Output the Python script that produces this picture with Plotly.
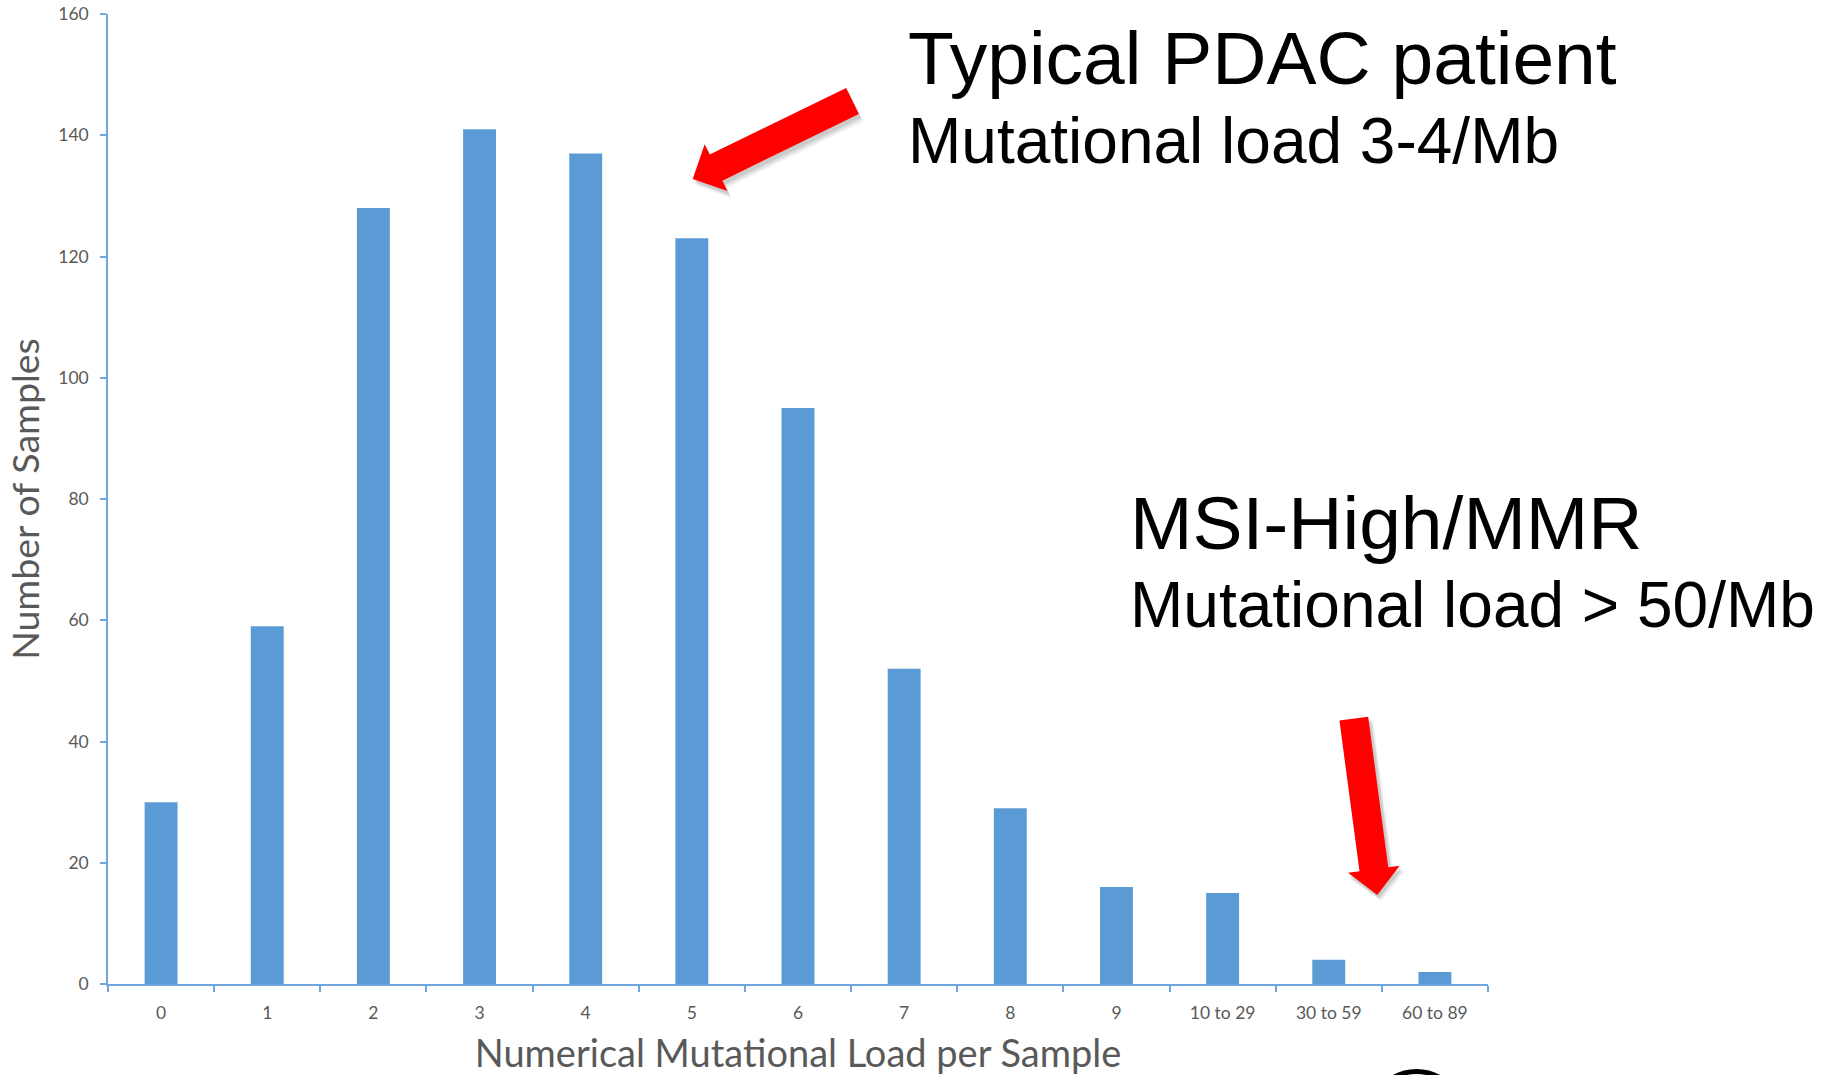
import math
import plotly.graph_objects as go

# Mutational load histogram data
categories = ["0", "1", "2", "3", "4", "5", "6", "7", "8", "9",
              "10 to 29", "30 to 59", "60 to 89"]
samples = [30, 59, 128, 141, 137, 123, 95, 52, 29, 16, 15, 4, 2]
y_ticks = [0, 20, 40, 60, 80, 100, 120, 140, 160]

W, H = 1831, 1075
ML, MR, MT, MB = 108, 343, 14, 91
PW, PH = W - ML - MR, H - MT - MB

BAR = "#5B9BD5"
AXIS = "#6FA6DB"
GREY = "#595959"


def px(x, y):
    """Pixel position -> paper coordinates."""
    return (x - ML) / PW, (H - MB - y) / PH


def block_arrow(tail, tip, shaft=29.0, head_w=52.0, head_l=26.0, dx=0.0, dy=0.0):
    tx, ty = tail[0] + dx, tail[1] + dy
    hx, hy = tip[0] + dx, tip[1] + dy
    L = math.hypot(hx - tx, hy - ty)
    ux, uy = (hx - tx) / L, (hy - ty) / L
    nx, ny = -uy, ux
    bx, by = hx - ux * head_l, hy - uy * head_l
    s, h = shaft / 2, head_w / 2
    pts = [
        (tx + nx * s, ty + ny * s),
        (bx + nx * s, by + ny * s),
        (bx + nx * h, by + ny * h),
        (hx, hy),
        (bx - nx * h, by - ny * h),
        (bx - nx * s, by - ny * s),
        (tx - nx * s, ty - ny * s),
    ]
    pp = [px(*p) for p in pts]
    return "M " + " L ".join(f"{a:.5f},{b:.5f}" for a, b in pp) + " Z"


fig = go.Figure(go.Bar(x=categories, y=samples, marker=dict(color=BAR, line=dict(width=0))))

shapes = []
arrows = [((852.5, 101.0), (692.7, 179.0)), ((1353.8, 718.7), (1377.3, 895.0))]
for tail, tip in arrows:
    # soft drop shadow
    for k, op in [(6, 0.05), (4.5, 0.07), (3, 0.09)]:
        shapes.append(dict(type="path", xref="paper", yref="paper",
                           path=block_arrow(tail, tip, shaft=29 + k * 0.6, head_w=52 + k * 0.6,
                                            dx=k * 0.6, dy=k),
                           fillcolor=f"rgba(0,0,0,{op})", line=dict(width=0), layer="above"))
    shapes.append(dict(type="path", xref="paper", yref="paper",
                       path=block_arrow(tail, tip), fillcolor="#FF0000",
                       line=dict(width=0), layer="above"))

# partial ring at the bottom edge
cx0, cy0 = px(1370, 1071.5)
cx1, cy1 = px(1463, 1164.5)
shapes.append(dict(type="circle", xref="paper", yref="paper", x0=cx0, y0=cy1, x1=cx1, y1=cy0,
                   line=dict(color="black", width=5), fillcolor="rgba(0,0,0,0)"))

texts = [
    ("Typical PDAC patient", 908, 84, 75),
    ("Mutational load 3-4/Mb", 908, 163, 64),
    ("MSI-High/MMR", 1130, 549, 75),
    ("Mutational load > 50/Mb", 1130, 627, 64),
]
annotations = []
for t, x, base, size in texts:
    ax, ay = px(x - 2, base - 0.3465 * size)
    annotations.append(dict(text=t, xref="paper", yref="paper", x=ax, y=ay,
                            xanchor="left", yanchor="middle", showarrow=False,
                            font=dict(family="Liberation Sans, Arial", size=size, color="black")))

fig.update_layout(
    width=W, height=H,
    margin=dict(l=ML, r=MR, t=MT, b=MB, autoexpand=False),
    plot_bgcolor="white", paper_bgcolor="white",
    bargap=0.69,
    showlegend=False,
    font=dict(family="Lato, Open Sans, sans-serif", color=GREY),
    shapes=shapes,
    annotations=annotations,
    xaxis=dict(
        type="category", tickson="boundaries", ticks="outside", ticklen=6,
        tickcolor=AXIS, tickwidth=1.5, showline=True, linecolor=AXIS, linewidth=1.5,
        showgrid=False, zeroline=False, automargin=False,
        tickfont=dict(size=17.5, color=GREY), ticklabelstandoff=12,
        title=dict(text="Numerical Mutational Load per Sample", font=dict(size=38, color=GREY),
                   standoff=24),
    ),
    yaxis=dict(
        range=[0, 160], tickvals=y_ticks, ticks="outside", ticklen=6,
        tickcolor=AXIS, tickwidth=1.5, showline=True, linecolor=AXIS, linewidth=1.5,
        showgrid=False, zeroline=False, automargin=False,
        tickfont=dict(size=17.5, color=GREY), ticklabelstandoff=8,
        title=dict(text="Number of Samples", font=dict(size=37.5, color=GREY), standoff=7),
    ),
)

fig.write_html("out.html")
